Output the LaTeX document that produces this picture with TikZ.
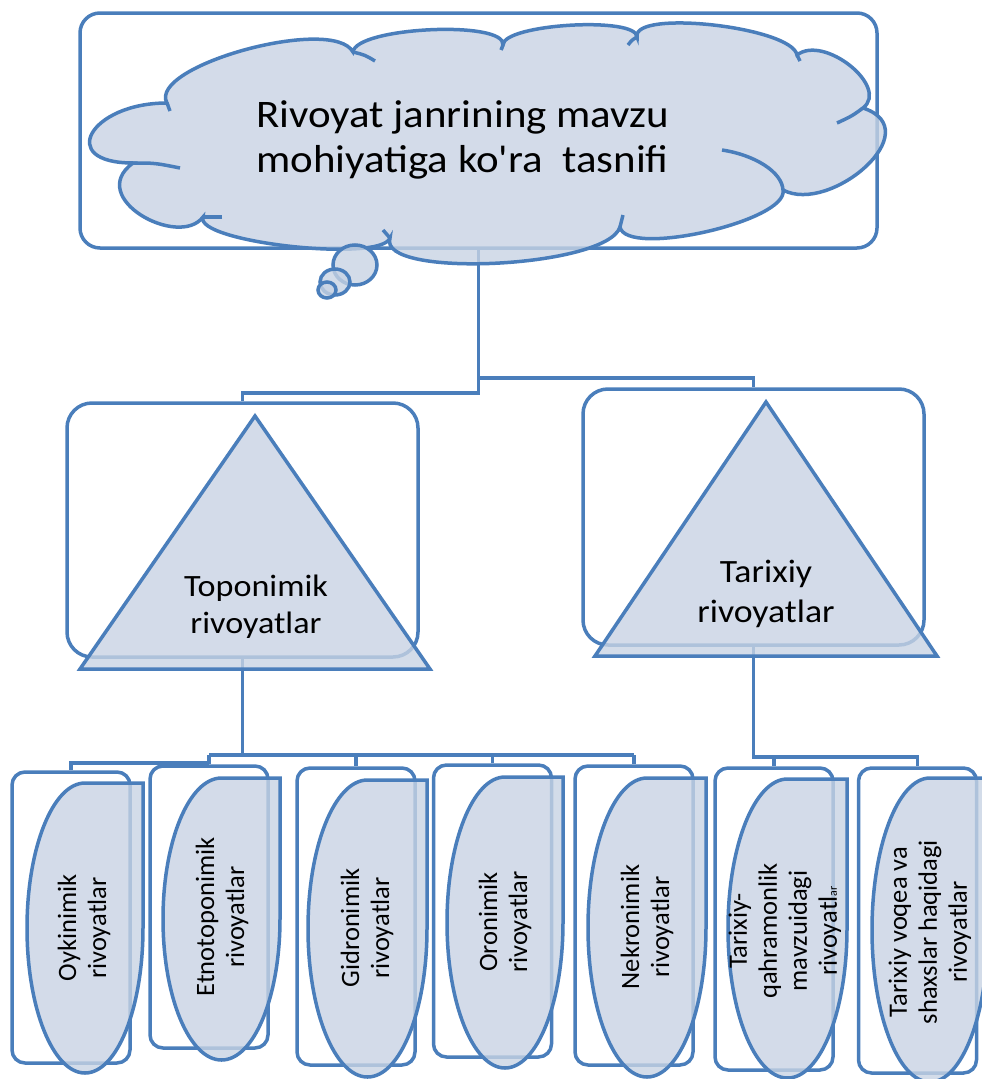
\documentclass[tikz,border=0pt]{standalone}
\usepackage{fontspec}
\setmainfont{Carlito}
\newfontfamily\widefont{Carlito}[FakeStretch=1.1]
\usetikzlibrary{calc}

\definecolor{smartline}{RGB}{74,126,187}
\definecolor{smartfill}{RGB}{200,211,228}

\begin{document}
\begin{tikzpicture}[x=1pt, y=-1pt,
 boxframe/.style={draw=smartline, line width=3.5pt, fill=white, rounded corners=#1, inner sep=0pt},
 boxframe/.default=13pt,
 link/.style={draw=smartline, line width=3.5pt},
 blob/.style={draw=smartline, line width=3.5pt, fill=smartfill, fill opacity=0.8},
 txt/.style={align=center, text=black, inner sep=0pt},
 leaftext/.style={txt, rotate=90, font=\fontsize{26.5}{30}\selectfont}]

  \useasboundingbox (0,0) rectangle (982,1079);

  % frames behind the shapes
  \node[boxframe=20pt, minimum width=797pt, minimum height=235pt] (top) at (478.5,130.5) {};
  \node[boxframe=25pt, minimum width=351pt, minimum height=254pt] (topo) at (242.5,530) {};
  \node[boxframe=25pt, minimum width=341pt, minimum height=256pt] (tarix) at (753.5,517) {};
  \foreach \n/\x/\y/\h in {b1/71/917.5/291, b2/209/907/282, b3/356/916.5/297,
      b4/492.5/911/292, b5/634/915.5/299, b6/774/919/302, b7/917.5/920.5/305}
    \node[boxframe, minimum width=118pt, minimum height=\h pt] (\n) at (\x,\y) {};

  % connectors
  \draw[link] (top.south) -- (top.south |- 0,393) -| (topo.north);
  \draw[link] (top.south |- 0,378) -| (tarix.north);
  \draw[link] (topo.south) -- (topo.south |- 0,755);
  \draw[link] (b2.north |- 0,755) -- (b5.north |- 0,755);
  \foreach \n in {b2,b3,b4,b5}
    \draw[link] (\n.north |- 0,755) -- (\n.north);
  \draw[link] (b2.north |- 0,763) -| (b1.north);
  \draw[link] (tarix.south) |- (b7.north |- 0,757) -- (b7.north);
  \draw[link] (b6.north |- 0,757) -- (b6.north);

  % cloud
  \path[blob] (133,163) .. controls (56,163) and (90,103) .. (167,103)
    .. controls (147,66) and (333,15) .. (353,52)
    .. controls (356,27) and (506,20) .. (503,45)
    .. controls (503,24) and (637,16) .. (637,37)
    .. controls (632,9) and (792,27) .. (797,55)
    .. controls (824,34) and (890,87) .. (863,108)
    .. controls (930,130) and (830,215) .. (783,190)
    .. controls (789,221) and (626,258) .. (620,227)
    .. controls (607,268) and (377,279) .. (390,238)
    .. controls (381,263) and (194,242) .. (203,217)
    .. controls (179,249) and (85,198) .. (133,163) -- cycle;
  \draw[link] (133,163) .. controls (155,163) .. (180,168);
  \draw[link] (167,103) -- (170,111);
  \draw[link] (353,52) .. controls (365,55) .. (375,61);
  \draw[link] (503,45) -- (501,50);
  \draw[link] (637,37) .. controls (632,40) .. (628,45);
  \draw[link] (797,55) -- (800,61);
  \draw[link] (863,108) .. controls (852,116) .. (837,123);
  \draw[link] (722,150) .. controls (755,155) and (782,172) .. (783,190);
  \draw[link] (623,215) -- (620,227);
  \draw[link] (383,230) -- (390,238);
  \draw[link] (222,217) -- (203,217);
  \path[blob] (355,265) ellipse [x radius=22pt, y radius=20pt];
  \path[blob] (335,282) ellipse [x radius=15pt, y radius=13pt];
  \path[blob] (327,290) ellipse [x radius=9pt, y radius=8pt];

  % triangles
  \path[blob] (255,416) -- (430,669) -- (80,669) -- cycle;
  \path[blob] (766,402) -- (937,656) -- (595,656) -- cycle;

  % leaves
  \foreach \cx/\cy/\rx/\ry in {85/928/58/145, 221.5/919/58.5/141, 367.5/928.5/59.5/148.5,
      505/922.5/58/145.5, 647/927.5/59/149.5, 787.5/928.5/59.5/149.5, 930/930/58/152}
    \path[blob] (\cx,\cy-\ry) -- (\cx+\rx,\cy-\ry) -- (\cx+\rx,\cy)
      arc [start angle=0, end angle=-270, x radius=\rx pt, y radius=\ry pt] -- cycle;

  % texts
  \node[txt, font=\widefont\fontsize{39}{45}\selectfont] (title) at (462.5,140)
    {Rivoyat janrining mavzu\\mohiyatiga ko'ra\ \ tasnifi};
  \node[txt, font=\widefont\fontsize{31}{37}\selectfont] (topotxt) at (256,607) {Toponimik\\rivoyatlar};
  \node[txt, font=\widefont\fontsize{32.5}{40}\selectfont] (tarixtxt) at (766,594) {Tarixiy\\rivoyatlar};

  \node[leaftext] (oyk) at (84,928) {Oykinimik\\rivoyatlar};
  \node[leaftext] (etno) at (222,917) {Etnotoponimik\\rivoyatlar};
  \node[leaftext] (gidro) at (367,928) {Gidronimik\\rivoyatlar};
  \node[leaftext] (oro) at (505,922) {Oronimik\\rivoyatlar};
  \node[leaftext] (nekro) at (647,927) {Nekronimik\\rivoyatlar};
  \node[leaftext] (qahr) at (785,931)
    {Tarixiy-\\qahramonlik\\mavzuidagi\\rivoyatl{\fontsize{12}{12}\selectfont ar}};
  \node[leaftext] (voqea) at (930,932) {Tarixiy voqea va\\shaxslar haqidagi\\rivoyatlar};
\end{tikzpicture}
\end{document}
